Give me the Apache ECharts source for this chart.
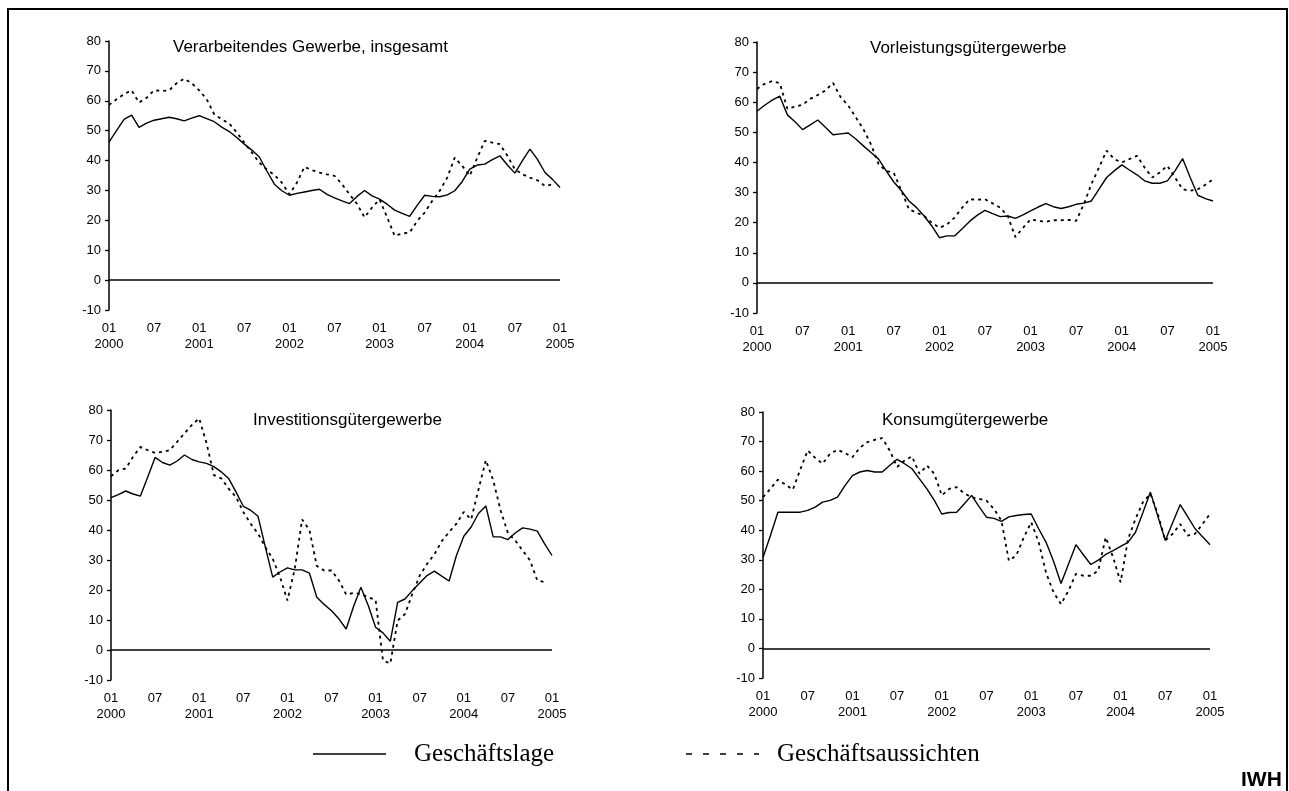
<!DOCTYPE html>
<html>
<head>
<meta charset="utf-8">
<script src="https://cdn.jsdelivr.net/npm/echarts@6/dist/echarts.min.js"></script>
<style>
html,body{margin:0;padding:0;background:#fff;}
#c{width:1289px;height:791px;}
</style>
</head>
<body>
<div id="c"></div>
<script>
// Monthly categories 01/2000 .. 01/2005
const months = [];
for (let y = 2000; y <= 2005; y++) {
  for (let m = 1; m <= 12; m++) {
    if (y === 2005 && m > 1) break;
    months.push(y + '-' + (m < 10 ? '0' + m : '' + m));
  }
}

const panelTitles = [
  'Verarbeitendes Gewerbe, insgesamt',
  'Vorleistungsgütergewerbe',
  'Investitionsgütergewerbe',
  'Konsumgütergewerbe'
];
const seriesNames = ['Geschäftslage', 'Geschäftsaussichten'];
const yTicks = [-10, 0, 10, 20, 30, 40, 50, 60, 70, 80];

// Verarbeitendes Gewerbe, insgesamt
const vgLage = [46.2, 50, 53.8, 55.2, 51.1, 52.5, 53.5, 54, 54.5, 54, 53.3, 54.2,
  55, 54, 53, 51.2, 49.7, 47.7, 45.5, 43.5, 41.2, 36.5, 32.1, 29.9,
  28.4, 29, 29.5, 30, 30.4, 28.7, 27.5, 26.5, 25.6, 28, 30, 28.2,
  27.1, 25.4, 23.4, 22.3, 21.3, 25, 28.4, 28, 27.9, 28.5, 29.9, 33,
  37.1, 38.5, 38.8, 40.3, 41.6, 38.5, 35.8, 40, 43.8, 40.4, 36, 33.7,
  31];
const vgAussichten = [58.6, 60.5, 62.2, 63.5, 59.4, 61, 63.5, 63.3, 63.5, 65.9, 67.4, 65.9,
  63.5, 60.5, 55.5, 53.8, 52.4, 49.4, 46, 42.7, 39.3, 37, 35.2, 32.6,
  28.7, 32.6, 37.9, 36.8, 36, 35.4, 34.9, 32.1, 28.7, 25.5, 21, 24.3,
  27, 21, 14.8, 15.6, 15.9, 19.8, 22.6, 26.5, 29.9, 34.3, 41, 38.2,
  34.9, 41, 46.6, 46, 45.5, 41.6, 37.1, 35.4, 34.3, 33.4, 31.5, 32,
  null];

// Vorleistungsgütergewerbe
const vlLage = [57, 59, 60.7, 62, 55.8, 53.5, 50.9, 52.5, 54.1, 51.7, 49.2, 49.5,
  49.8, 47.8, 45.5, 43.3, 41.1, 37.2, 33.5, 30.6, 27.2, 25, 22.2, 18.9,
  15, 15.6, 15.6, 18, 20.5, 22.5, 24.1, 23, 22, 22.2, 21.4, 22.6,
  23.9, 25.2, 26.3, 25.3, 24.7, 25.3, 26.1, 26.5, 27.2, 31.1, 35, 37.2,
  39.2, 37.5, 35.9, 33.9, 33.1, 33.1, 33.9, 37.2, 41.3, 35, 29.1, 28,
  27.2];
const vlAussichten = [64.4, 66.1, 67, 66.3, 57.8, 58.5, 59.2, 61.1, 62.4, 63.9, 66.4, 61.7,
  58.9, 55, 51, 46, 39.4, 37.2, 36.5, 30.6, 24.4, 23.3, 22.2, 20,
  18.3, 19.4, 21.7, 25, 27.8, 27.6, 27.8, 26.4, 25, 22.2, 15.2, 18.3,
  21.1, 20.6, 20.3, 20.8, 20.8, 20.9, 20.6, 26.1, 32.8, 38.3, 43.9, 41.1,
  40, 41.1, 42.2, 38.3, 35, 36.7, 38.9, 35, 31.1, 30.6, 31.1, 32.6,
  34.4];

// Investitionsgütergewerbe
const igLage = [50.8, 51.8, 53, 52, 51.3, 57.7, 64.2, 62.5, 61.6, 63, 65, 63.5,
  62.7, 62.2, 61.1, 59.4, 57.2, 52.7, 47.9, 46.6, 44.6, 34.3, 24.3, 26,
  27.4, 26.7, 26.7, 25.6, 17.6, 15.2, 13.1, 10.4, 7, 14.5, 20.9, 14.8,
  7.6, 5.7, 2.9, 15.9, 17, 19.8, 22.3, 24.8, 26.3, 24.6, 23, 31.5,
  37.9, 41, 45.5, 48, 37.7, 37.7, 36.8, 39, 40.7, 40.3, 39.6, 35.4,
  31.5];
const igAussichten = [57.9, 59.9, 60.5, 64.4, 67.7, 66.6, 65.7, 66.1, 66.6, 69.4, 72.2, 75,
  77.2, 68.9, 58.3, 57.2, 53.8, 51, 46, 42.1, 38.8, 34.3, 30.4, 24.3,
  16.5, 27, 43.5, 40, 28, 26.5, 26.5, 23.2, 18.5, 19, 18.7, 17.6,
  16.7, -3.5, -4.5, 9.8, 12, 18.7, 24.8, 28.7, 31.9, 36.3, 39.3, 42.1,
  46, 43.5, 53.5, 63.3, 56.6, 46.6, 39, 36.5, 33.2, 29.9, 23.2, 22.6,
  null];

// Konsumgütergewerbe
const kgLage = [30.8, 38.2, 46.1, 46.1, 46.1, 46.1, 46.7, 47.8, 49.5, 50.1, 51.2, 55.1,
  58.5, 59.7, 60.2, 59.7, 59.7, 61.9, 64, 62.5, 60.8, 57.4, 54, 50.1,
  45.5, 46, 46.1, 48.9, 51.8, 48, 44.4, 44, 43, 44.5, 45, 45.3,
  45.5, 40.5, 35.9, 29.5, 22, 28.5, 35.1, 31.7, 28.4, 29.9, 31.8, 33.1,
  34.5, 35.9, 39.3, 46, 52.9, 44.7, 36.5, 42.6, 48.7, 44.6, 40.5, 37.8,
  35.1];
const kgAussichten = [51.2, 54, 57.1, 55.5, 53.7, 60.5, 67, 64.5, 62.5, 65.9, 67.2, 66.1,
  64.7, 67.9, 69.8, 70.6, 71.2, 67, 61.4, 63.6, 65, 59.1, 61.9, 59.1,
  51.8, 54, 54.6, 52.5, 51.2, 50.6, 50, 47.2, 43.3, 29.7, 31.5, 37.5,
  42.7, 36, 25.5, 19, 15, 19.5, 25.2, 24.6, 24.6, 26.3, 37.6, 30.8,
  22.4, 37, 43.8, 49.5, 52.3, 45.5, 36.5, 38.8, 42.1, 38.2, 38.8, 42.1,
  45.5];

const panelData = [
  [vgLage, vgAussichten],
  [vlLage, vlAussichten],
  [igLage, igAussichten],
  [kgLage, kgAussichten]
];

// layout (pixels)
const grids = [
  {left: 109, top: 41, width: 451, height: 269},
  {left: 757, top: 42, width: 456, height: 271},
  {left: 111, top: 410, width: 441, height: 270},
  {left: 763, top: 412, width: 447, height: 266}
];
const titlePos = [
  {left: 173, top: 39},
  {left: 870, top: 40},
  {left: 253, top: 412},
  {left: 882, top: 412}
];

const FONT = 'Liberation Sans, Arial, sans-serif';
const SERIF = 'Liberation Serif, Times New Roman, serif';

const option = {
  animation: false,
  backgroundColor: '#fff',
  title: panelTitles.map((t, i) => ({
    text: t, left: titlePos[i].left, top: titlePos[i].top, padding: 0,
    textStyle: {fontSize: 17, fontWeight: 'normal', fontFamily: FONT, color: '#000'}
  })),
  grid: grids,
  xAxis: grids.map((g, i) => ({
    type: 'category', gridIndex: i, data: months, boundaryGap: false,
    axisLine: {show: false}, axisTick: {show: false}, splitLine: {show: false},
    axisLabel: {
      interval: 5, margin: 10, fontSize: 13, lineHeight: 16, fontFamily: FONT, color: '#000',
      formatter: function (v) {
        const p = v.split('-');
        return p[1] === '01' ? '01\n' + p[0] : p[1];
      }
    }
  })),
  yAxis: grids.map((g, i) => ({
    type: 'value', gridIndex: i, min: yTicks[0], max: yTicks[yTicks.length - 1], interval: 10,
    axisLine: {show: true, lineStyle: {color: '#000', width: 1.5}},
    axisTick: {show: true, length: 4, lineStyle: {color: '#000', width: 1.3}},
    splitLine: {show: false},
    axisLabel: {margin: 8, fontSize: 13, fontFamily: FONT, color: '#000'}
  })),
  series: [],
  graphic: [
    {type: 'rect', shape: {x: 8, y: 9, width: 1279, height: 800}, style: {fill: 'none', stroke: '#000', lineWidth: 2}, silent: true},
    {type: 'line', shape: {x1: 313, y1: 754, x2: 386, y2: 754}, style: {stroke: '#000', lineWidth: 1.5}},
    {type: 'text', x: 414, y: 754, style: {text: seriesNames[0], font: '25px ' + SERIF, fill: '#000', verticalAlign: 'middle', textVerticalAlign: 'middle'}},
    {type: 'line', shape: {x1: 686, y1: 754, x2: 759, y2: 754}, style: {stroke: '#000', lineWidth: 1.5, lineDash: [6, 11]}},
    {type: 'text', x: 777, y: 754, style: {text: seriesNames[1], font: '25px ' + SERIF, fill: '#000', verticalAlign: 'middle', textVerticalAlign: 'middle'}},
    {type: 'text', x: 1241, y: 780, style: {text: 'IWH', font: 'bold 21px ' + FONT, fill: '#000', verticalAlign: 'middle', textVerticalAlign: 'middle'}}
  ]
};

panelData.forEach((pair, i) => {
  option.series.push({
    name: seriesNames[0], type: 'line', xAxisIndex: i, yAxisIndex: i, data: pair[0],
    symbol: 'none', lineStyle: {color: '#000', width: 1.4}, z: 3,
    markLine: {
      silent: true, symbol: 'none', label: {show: false},
      lineStyle: {color: '#000', type: 'solid', width: 1.5},
      data: [{yAxis: 0}]
    }
  });
  option.series.push({
    name: seriesNames[1], type: 'line', xAxisIndex: i, yAxisIndex: i, data: pair[1],
    symbol: 'none', lineStyle: {color: '#000', width: 1.8, type: [3, 4]}, z: 4
  });
});

const chart = echarts.init(document.getElementById('c'), null, {renderer: 'canvas'});
chart.setOption(option);
</script>
</body>
</html>
